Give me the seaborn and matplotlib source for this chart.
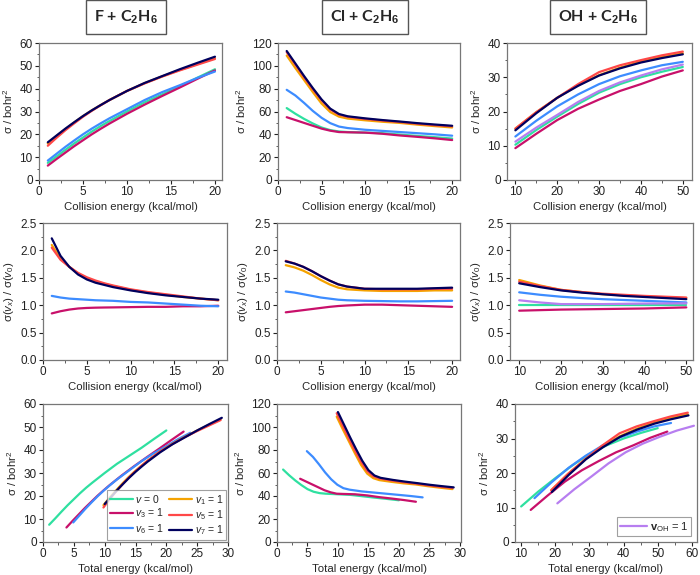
import numpy as np
import pandas as pd
import matplotlib
matplotlib.use("Agg")
import matplotlib.pyplot as plt
from matplotlib.lines import Line2D
from matplotlib.ticker import AutoMinorLocator, MultipleLocator, FormatStrFormatter
import seaborn as sns

sns.set_theme(style="white")
plt.rcParams['font.family'] = ['Liberation Sans', 'DejaVu Sans']
plt.rcParams['mathtext.fontset'] = 'custom'
plt.rcParams['mathtext.rm'] = 'Liberation Sans'
plt.rcParams['mathtext.it'] = 'Liberation Sans:italic'
plt.rcParams['mathtext.bf'] = 'Liberation Sans:bold'

# ---------------- data ----------------
modes = ["v0", "v3", "v6", "vOH", "v1", "v5", "v7"]
colors = {"v0": "#2fe0a0", "v1": "#f5a300", "v3": "#c8106a", "v5": "#ff4848",
          "v6": "#3d8cff", "v7": "#00005e", "vOH": "#b77ef0"}
# vibrational energies (kcal/mol) used for the total-energy axis
e_vib = {"v0": 0.0, "v3": 2.8, "v6": 3.9, "v1": 8.8, "v5": 8.8, "v7": 9.0, "vOH": 10.6}

ec_fcl = [1, 2, 3, 4, 5, 6, 7, 8, 10, 12, 14, 16, 18, 20]
ec_oh = [10, 15, 20, 25, 30, 35, 40, 45, 50]

# F + C2H6 cross sections (bohr^2)
f_sig = {
    "v0": [7.5, 10.3, 13.2, 16.0, 18.6, 21.2, 23.6, 25.8, 30.0, 34.0, 37.5, 41.0, 44.8, 48.5],
    "v3": [6.3, 9.2, 12.0, 14.8, 17.4, 20.0, 22.4, 24.7, 29.0, 33.0, 36.8, 40.5, 44.3, 48.0],
    "v6": [8.5, 11.5, 14.5, 17.3, 20.0, 22.5, 24.8, 27.0, 31.0, 35.0, 38.5, 41.5, 44.7, 47.5],
    "v1": [16.0, 19.3, 22.3, 25.2, 28.0, 30.5, 32.8, 35.0, 39.0, 42.4, 45.4, 48.2, 50.8, 53.3],
    "v5": [15.0, 18.5, 21.8, 24.8, 27.7, 30.3, 32.7, 35.0, 39.0, 42.3, 45.3, 48.0, 50.5, 53.0],
    "v7": [16.5, 19.5, 22.5, 25.3, 28.0, 30.5, 32.8, 35.0, 39.0, 42.5, 45.5, 48.5, 51.3, 54.0],
}
f_ratio = {
    "v3": [0.85, 0.89, 0.92, 0.94, 0.95, 0.955, 0.958, 0.96, 0.965, 0.97, 0.97, 0.98, 0.98, 0.99],
    "v6": [1.17, 1.14, 1.12, 1.11, 1.10, 1.09, 1.085, 1.08, 1.06, 1.05, 1.03, 1.01, 0.99, 0.98],
    "v1": [2.10, 1.85, 1.70, 1.58, 1.49, 1.43, 1.39, 1.35, 1.28, 1.23, 1.19, 1.15, 1.12, 1.09],
    "v5": [2.05, 1.83, 1.70, 1.59, 1.51, 1.45, 1.40, 1.36, 1.29, 1.24, 1.20, 1.16, 1.12, 1.09],
    "v7": [2.22, 1.90, 1.70, 1.56, 1.47, 1.41, 1.37, 1.33, 1.27, 1.22, 1.18, 1.15, 1.12, 1.10],
}
# Cl + C2H6
cl_sig = {
    "v0": [63.0, 58.0, 53.5, 49.5, 46.0, 43.7, 42.5, 42.0, 41.5, 41.0, 39.8, 38.6, 37.5, 36.3],
    "v3": [55.0, 52.5, 50.0, 47.5, 45.0, 43.2, 42.0, 41.8, 41.5, 40.5, 39.0, 37.8, 36.5, 35.0],
    "v6": [79.0, 74.0, 67.5, 60.5, 54.5, 49.8, 46.8, 45.5, 44.0, 43.0, 42.0, 41.0, 40.0, 38.8],
    "v1": [109.0, 98.0, 87.5, 77.0, 67.0, 59.5, 55.5, 53.8, 52.3, 51.0, 50.0, 48.5, 47.2, 46.0],
    "v5": [112.0, 101.0, 90.0, 79.5, 69.8, 61.8, 57.2, 55.3, 53.5, 52.0, 50.8, 49.3, 48.0, 47.0],
    "v7": [113.0, 102.0, 91.0, 80.5, 70.6, 62.5, 57.8, 55.8, 54.0, 52.5, 51.2, 49.8, 48.6, 47.5],
}
cl_ratio = {
    "v3": [0.87, 0.89, 0.91, 0.93, 0.95, 0.97, 0.985, 0.995, 1.01, 1.01, 1.00, 0.99, 0.98, 0.97],
    "v6": [1.25, 1.23, 1.20, 1.17, 1.14, 1.12, 1.10, 1.09, 1.08, 1.075, 1.07, 1.07, 1.075, 1.08],
    "v1": [1.73, 1.69, 1.63, 1.55, 1.46, 1.38, 1.32, 1.29, 1.27, 1.26, 1.26, 1.26, 1.27, 1.27],
    "v5": [1.81, 1.76, 1.70, 1.62, 1.53, 1.45, 1.38, 1.34, 1.30, 1.29, 1.29, 1.29, 1.30, 1.30],
    "v7": [1.80, 1.76, 1.70, 1.62, 1.53, 1.45, 1.38, 1.34, 1.30, 1.30, 1.30, 1.30, 1.31, 1.32],
}
# OH + C2H6
oh_sig = {
    "v0": [10.3, 14.6, 18.5, 22.2, 25.5, 28.0, 30.0, 31.6, 33.0],
    "v3": [9.3, 13.5, 17.5, 20.8, 23.5, 26.0, 28.0, 30.2, 32.0],
    "vOH": [11.2, 15.3, 19.0, 22.8, 26.0, 28.5, 30.5, 32.3, 33.7],
    "v6": [12.7, 17.3, 21.5, 25.0, 28.0, 30.3, 32.0, 33.5, 34.5],
    "v1": [15.0, 19.8, 24.0, 27.7, 30.6, 32.8, 34.6, 35.9, 37.0],
    "v5": [15.0, 19.8, 24.0, 28.0, 31.5, 33.5, 35.0, 36.4, 37.5],
    "v7": [14.5, 19.5, 24.0, 27.5, 30.5, 32.6, 34.3, 35.6, 36.7],
}
oh_ratio = {
    "v0": [1.0, 1.0, 1.0, 1.0, 1.0, 1.0, 1.0, 1.0, 1.0],
    "v3": [0.90, 0.91, 0.92, 0.925, 0.93, 0.935, 0.94, 0.95, 0.96],
    "vOH": [1.09, 1.05, 1.02, 1.02, 1.02, 1.025, 1.03, 1.032, 1.034],
    "v6": [1.235, 1.19, 1.155, 1.13, 1.11, 1.095, 1.08, 1.065, 1.05],
    "v1": [1.46, 1.36, 1.28, 1.24, 1.20, 1.18, 1.16, 1.14, 1.13],
    "v5": [1.43, 1.35, 1.28, 1.24, 1.21, 1.19, 1.17, 1.155, 1.14],
    "v7": [1.40, 1.33, 1.27, 1.23, 1.20, 1.17, 1.15, 1.13, 1.11],
}

titles = ["F + C$_\\mathbf{2}$H$_\\mathbf{6}$", "Cl + C$_\\mathbf{2}$H$_\\mathbf{6}$",
          "OH + C$_\\mathbf{2}$H$_\\mathbf{6}$"]


def long_df(x, d, shift=False):
    rows = []
    for m in modes:
        if m not in d:
            continue
        for xv, yv in zip(x, d[m]):
            rows.append({"x": xv + (e_vib[m] if shift else 0.0), "y": yv, "mode": m})
    return pd.DataFrame(rows)


W, H = 700, 575
fig = plt.figure(figsize=(7, 5.75), dpi=100)


def add_ax(l, r, t, b):
    return fig.add_axes([l / W, 1 - b / H, (r - l) / W, (b - t) / H])


def style(ax, xlim, ylim, xmaj, ymaj):
    ax.set_xlim(*xlim)
    ax.set_ylim(*ylim)
    ax.xaxis.set_major_locator(MultipleLocator(xmaj))
    ax.yaxis.set_major_locator(MultipleLocator(ymaj))
    ax.xaxis.set_minor_locator(AutoMinorLocator(2))
    ax.yaxis.set_minor_locator(AutoMinorLocator(2))
    ax.tick_params(which='major', direction='out', length=3, width=0.8,
                   labelsize=8.5, colors='#222222', pad=1.5, bottom=True, left=True)
    ax.tick_params(which='minor', direction='out', length=1.8, width=0.6,
                   bottom=True, left=True, colors='#444444')
    for s in ax.spines.values():
        s.set_color('#777777')
        s.set_linewidth(0.9)
    ax.grid(False)


def draw(ax, df):
    order = [m for m in modes if m in set(df["mode"])]
    sns.lineplot(data=df, x="x", y="y", hue="mode", hue_order=order,
                 palette=colors, estimator=None, legend=False, lw=1.6, ax=ax)
    ax.set_xlabel("")
    ax.set_ylabel("")


sig_lab = "σ / bohr$^2$"
rat_lab = "σ($v_x$) / σ($v_0$)"
LAB = 8.2

rows_px = [(43, 180), (223, 360), (404, 542)]
cols_px = [
    [(39, 222), (278, 460), (507, 692)],
    [(43, 227), (277, 460), (510, 693)],
    [(43, 228), (277, 461), (515, 697)],
]

sigs = [f_sig, cl_sig, oh_sig]
rats = [f_ratio, cl_ratio, oh_ratio]
xs = [ec_fcl, ec_fcl, ec_oh]
ylims = [(0, 60), (0, 120), (0, 40)]
ymajs = [10, 20, 10]
xlims_top = [(0, 20.8), (0, 20.9), (8, 52.2)]
xlims_mid = [(0, 21), (0, 20.9), (7.8, 51.6)]
xlims_bot = [(0, 30), (0, 30.2), (8.2, 61.5)]
xmaj = [5, 5, 10]

for c in range(3):
    # row 1
    t, b = rows_px[0]
    l, r = cols_px[0][c]
    ax = add_ax(l, r, t, b)
    draw(ax, long_df(xs[c], sigs[c]))
    style(ax, xlims_top[c], ylims[c], xmaj[c], ymajs[c])
    ax.set_ylabel(sig_lab, fontsize=LAB, labelpad=3)
    ax.set_xlabel("Collision energy (kcal/mol)", fontsize=LAB, labelpad=3)

    # row 2
    t, b = rows_px[1]
    l, r = cols_px[1][c]
    ax = add_ax(l, r, t, b)
    draw(ax, long_df(xs[c], rats[c]))
    style(ax, xlims_mid[c], (0, 2.5), xmaj[c], 0.5)
    ax.yaxis.set_major_formatter(FormatStrFormatter('%.1f'))
    ax.set_ylabel(rat_lab, fontsize=LAB, labelpad=3)
    ax.set_xlabel("Collision energy (kcal/mol)", fontsize=LAB, labelpad=3)

    # row 3
    t, b = rows_px[2]
    l, r = cols_px[2][c]
    ax = add_ax(l, r, t, b)
    draw(ax, long_df(xs[c], sigs[c], shift=True))
    style(ax, xlims_bot[c], ylims[c], xmaj[c], ymajs[c])
    ax.set_ylabel(sig_lab, fontsize=LAB, labelpad=3)
    ax.set_xlabel("Total energy (kcal/mol)", fontsize=LAB, labelpad=3)

    if c == 0:
        labs = {"v0": "$v$ = 0", "v1": "$v_1$ = 1", "v3": "$v_3$ = 1",
                "v5": "$v_5$ = 1", "v6": "$v_6$ = 1", "v7": "$v_7$ = 1"}
        order = ["v0", "v3", "v6", "v1", "v5", "v7"]
        handles = [Line2D([], [], color=colors[m], lw=1.6) for m in order]
        leg = ax.legend(handles, [labs[m] for m in order], ncol=2, loc='lower right',
                        fontsize=7.5, frameon=True, fancybox=False, handlelength=2.2,
                        handletextpad=0.25, columnspacing=0.5, labelspacing=0.15,
                        borderpad=0.3, borderaxespad=0.15)
        leg.get_frame().set_edgecolor('#888888')
        leg.get_frame().set_linewidth(0.8)
    if c == 2:
        handles = [Line2D([], [], color=colors["vOH"], lw=1.6)]
        leg = ax.legend(handles, [r"$\mathbf{v}_{\mathrm{OH}}$ = 1"], loc='lower right',
                        fontsize=8, frameon=True, fancybox=False, handlelength=2.4,
                        handletextpad=0.3, borderpad=0.25, borderaxespad=0.5)
        leg.get_frame().set_edgecolor('#888888')
        leg.get_frame().set_linewidth(0.8)

# column titles
centers = [126, 365, 598]
for c in range(3):
    fig.text(centers[c] / W, 1 - 17 / H, titles[c], ha='center', va='center',
             fontsize=11.5, fontweight='bold', family=['Lato', 'DejaVu Sans'],
             bbox=dict(boxstyle='square,pad=0.5', fc='white', ec='#555555', lw=1.0))

fig.savefig("out.png", dpi=100, facecolor='white')
